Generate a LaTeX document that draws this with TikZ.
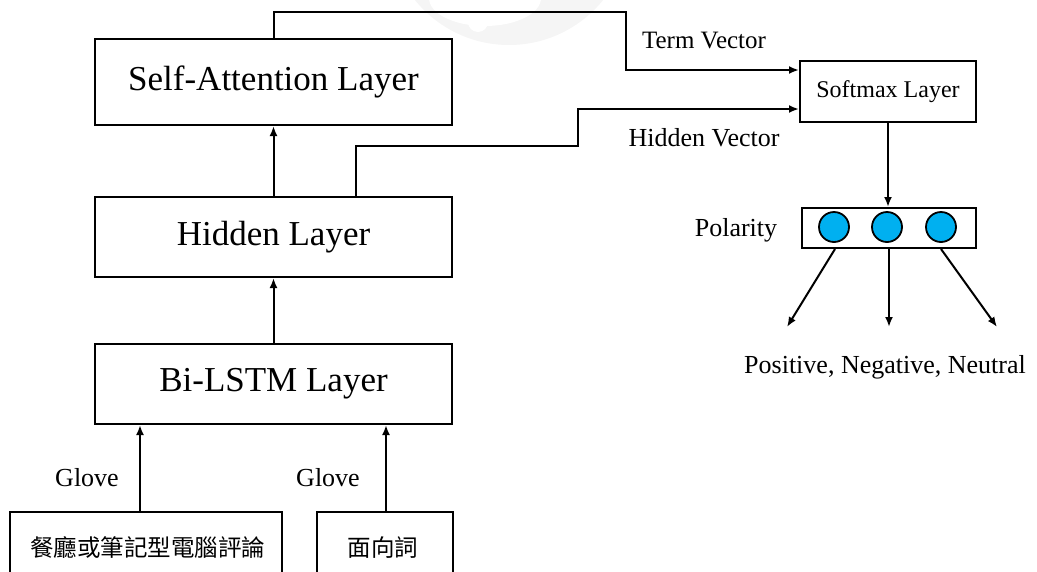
\documentclass[tikz,border=0pt]{standalone}
\usepackage{fontspec}
\setmainfont{Liberation Serif}
\newfontfamily\cjk{Noto Sans CJK TC}
\usetikzlibrary{arrows.meta}
\definecolor{dotblue}{HTML}{00B0F0}
\begin{document}
\begin{tikzpicture}[x=1pt,y=-1pt,
  box/.style={draw, line width=2pt, inner sep=0pt, font=\fontsize{35}{40}\selectfont},
  smallbox/.style={draw, line width=2pt, inner sep=0pt, font=\fontsize{24}{28}\selectfont},
  cjkbox/.style={draw, line width=2pt, inner sep=0pt},
  cjktext/.style={inner sep=0pt, font=\cjk\fontsize{23.5}{26}\selectfont},
  lbl/.style={inner sep=0pt, font=\fontsize{26}{30}\selectfont},
  dot/.style={circle, draw, line width=1.8pt, fill=dotblue, minimum size=30pt, inner sep=0pt},
  arr/.style={line width=2pt, -{Latex[length=10pt,width=8pt]}}]
\useasboundingbox (0,0) rectangle (1037,571);
\clip (0,0) rectangle (1037,571);
% faint watermark
\fill[gray!8] (509,-76) circle (121pt);
\fill[white] (485,-2) ellipse (56pt and 28pt);
\fill[white] (478,22) circle (10pt);
% left column
\node[box, minimum width=357pt, minimum height=86pt] (attn) at (273.5,82) {Self-Attention Layer};
\node[box, minimum width=357pt, minimum height=80pt] (hidden) at (273.5,237) {Hidden Layer};
\node[box, minimum width=357pt, minimum height=80pt] (bilstm) at (273.5,384) {Bi-LSTM Layer};
\node[cjkbox, minimum width=272pt, minimum height=76pt] (in1) at (146,550) {};
\node[cjktext] (in1t) at (148,548) {餐廳或筆記型電腦評論};
\node[cjkbox, minimum width=136pt, minimum height=76pt] (in2) at (385,550) {};
\node[cjktext] (in2t) at (383,548) {面向詞};
\node[lbl] (g1) at (87,478) {Glove};
\node[lbl] (g2) at (328,478) {Glove};
% right column
\node[smallbox, minimum width=176pt, minimum height=61pt] (softmax) at (888,91.5) {Softmax Layer};
\node[draw, line width=2pt, minimum width=174pt, minimum height=40pt, inner sep=0pt] (pol) at (889,228) {};
\node[dot] (c1) at (834,227) {};
\node[dot] (c2) at (887,227) {};
\node[dot] (c3) at (941,227) {};
\node[lbl] (poll) at (736,230) {Polarity};
\node[lbl, font=\fontsize{25}{30}\selectfont] (tv) at (704,41) {Term Vector};
\node[lbl] (hv) at (704,138) {Hidden Vector};
\node[lbl] (out) at (885,367) {Positive, Negative, Neutral};
\coordinate (o1) at (787,327);
\coordinate (o2) at (889,327);
\coordinate (o3) at (997,327);
% connectors
\draw[arr] (bilstm.north) -- (hidden.south);
\draw[arr] (hidden.north) -- (attn.south);
\draw[arr] ([xshift=-6pt]in1.north) -- ([xshift=-6pt]in1.north |- bilstm.south);
\draw[arr] ([xshift=1pt]in2.north) -- ([xshift=1pt]in2.north |- bilstm.south);
\draw[arr] (attn.north) |- (626,12) |- ([yshift=21.5pt]softmax.west);
\draw[arr] ([xshift=82.5pt]hidden.north) |- (578,146) |- ([yshift=-17.5pt]softmax.west);
\draw[arr] (softmax.south) -- (softmax.south |- pol.north);
\draw[arr] ([xshift=-54pt]pol.south) -- (o1);
\draw[arr] (pol.south) -- (o2);
\draw[arr] ([xshift=52pt]pol.south) -- (o3);
\end{tikzpicture}
\end{document}
